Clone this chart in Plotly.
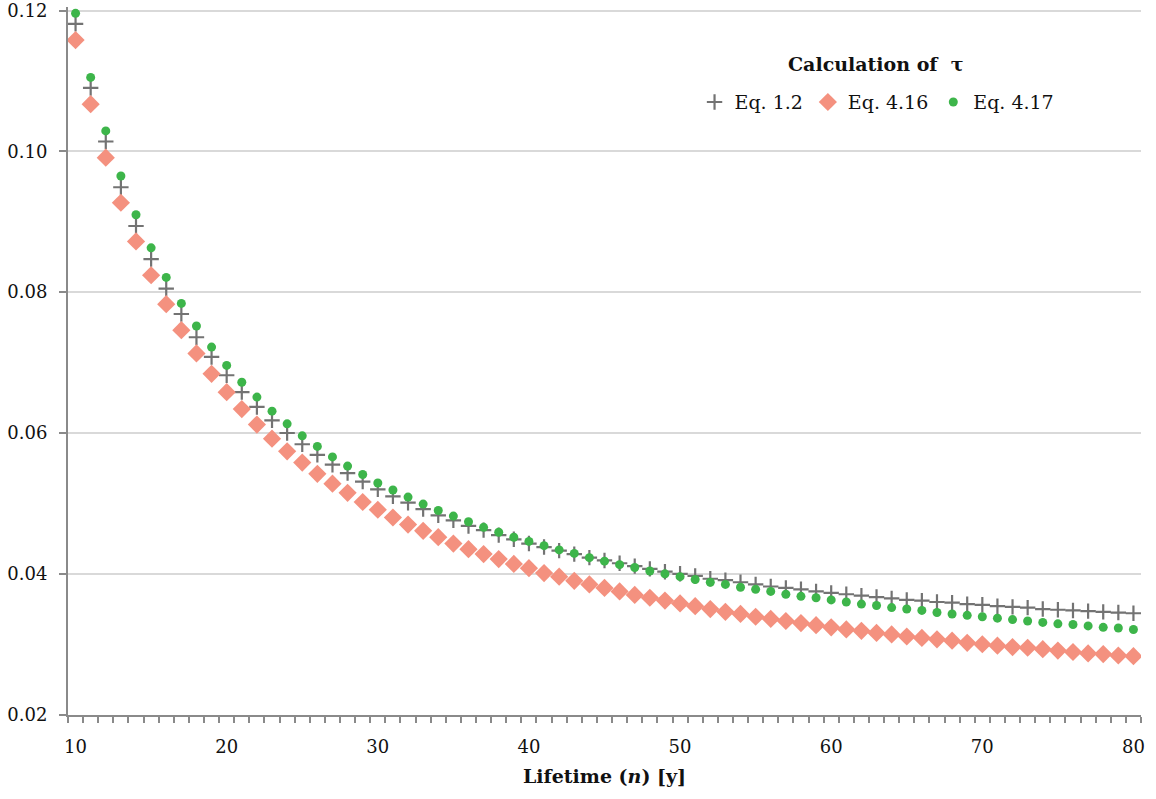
import plotly.graph_objects as go

lifetime = list(range(10, 81))

eq_1_2 = [0.1181, 0.1090, 0.1014, 0.0949, 0.0894, 0.0847, 0.0805, 0.0769, 0.0736, 0.0708,
          0.0682, 0.0658, 0.0637, 0.0618, 0.0600, 0.0584, 0.0569, 0.0555, 0.0543, 0.0531,
          0.0520, 0.0510, 0.0501, 0.0492, 0.0483, 0.0476, 0.0468, 0.0462, 0.0455, 0.0449,
          0.0443, 0.0438, 0.0433, 0.0428, 0.0423, 0.0419, 0.0415, 0.0411, 0.0407, 0.0403,
          0.0400, 0.0397, 0.0393, 0.0391, 0.0388, 0.0385, 0.0382, 0.0380, 0.0378, 0.0375,
          0.0373, 0.0371, 0.0369, 0.0367, 0.0365, 0.0363, 0.0362, 0.0360, 0.0359, 0.0357,
          0.0356, 0.0354, 0.0353, 0.0352, 0.0350, 0.0349, 0.0348, 0.0347, 0.0346, 0.0345,
          0.0344]

eq_4_16 = [0.1158, 0.1067, 0.0991, 0.0927, 0.0872, 0.0824, 0.0783, 0.0746, 0.0713, 0.0684,
           0.0658, 0.0634, 0.0612, 0.0592, 0.0574, 0.0558, 0.0542, 0.0528, 0.0515, 0.0502,
           0.0491, 0.0480, 0.0470, 0.0461, 0.0452, 0.0443, 0.0435, 0.0428, 0.0421, 0.0414,
           0.0408, 0.0401, 0.0396, 0.0390, 0.0385, 0.0380, 0.0375, 0.0370, 0.0366, 0.0362,
           0.0358, 0.0354, 0.0350, 0.0346, 0.0343, 0.0339, 0.0336, 0.0333, 0.0330, 0.0327,
           0.0324, 0.0321, 0.0319, 0.0316, 0.0314, 0.0311, 0.0309, 0.0307, 0.0305, 0.0302,
           0.0300, 0.0298, 0.0296, 0.0295, 0.0293, 0.0291, 0.0289, 0.0287, 0.0286, 0.0284,
           0.0283]

eq_4_17 = [0.1196, 0.1105, 0.1029, 0.0965, 0.0910, 0.0863, 0.0821, 0.0784, 0.0752, 0.0722,
           0.0696, 0.0672, 0.0651, 0.0631, 0.0613, 0.0596, 0.0581, 0.0566, 0.0553, 0.0541,
           0.0529, 0.0519, 0.0509, 0.0499, 0.0490, 0.0482, 0.0474, 0.0466, 0.0459, 0.0452,
           0.0446, 0.0440, 0.0434, 0.0429, 0.0423, 0.0418, 0.0413, 0.0409, 0.0404, 0.0400,
           0.0396, 0.0392, 0.0388, 0.0385, 0.0381, 0.0378, 0.0375, 0.0371, 0.0368, 0.0366,
           0.0363, 0.0360, 0.0357, 0.0355, 0.0352, 0.0350, 0.0348, 0.0345, 0.0343, 0.0341,
           0.0339, 0.0337, 0.0335, 0.0333, 0.0331, 0.0329, 0.0328, 0.0326, 0.0324, 0.0323,
           0.0321]

x_ticks = [10, 20, 30, 40, 50, 60, 70, 80]
y_ticks = [0.02, 0.04, 0.06, 0.08, 0.10, 0.12]
y_ticklabels = ["0.02", "0.04", "0.06", "0.08", "0.10", "0.12"]

FONT = "DejaVu Serif"
AXIS = "#8a8a8a"

fig = go.Figure()
fig.add_trace(go.Scatter(x=lifetime, y=eq_1_2, mode="markers", name="Eq. 1.2",
                         marker=dict(symbol="cross-thin", size=11, color="#737373",
                                     line=dict(width=2.2, color="#737373"))))
fig.add_trace(go.Scatter(x=lifetime, y=eq_4_16, mode="markers", name="Eq. 4.16",
                         marker=dict(symbol="diamond", size=14, color="#f4917f")))
fig.add_trace(go.Scatter(x=lifetime, y=eq_4_17, mode="markers", name="Eq. 4.17",
                         marker=dict(symbol="circle", size=9, color="#3db54a")))

fig.add_annotation(text="<b>Calculation of  τ</b>", xref="paper", yref="paper",
                   x=0.753, y=0.919, xanchor="center", yanchor="middle",
                   showarrow=False, font=dict(family=FONT, size=19, color="#111111"))

fig.update_layout(
    width=1156, height=799,
    margin=dict(l=68, r=15, t=7, b=84),
    paper_bgcolor="white", plot_bgcolor="white",
    font=dict(family=FONT, size=18, color="#111111"),
    showlegend=True,
    legend=dict(
        orientation="h", x=0.754, xanchor="center", y=0.8656, yanchor="middle",
        font=dict(family=FONT, size=19),
        bgcolor="rgba(0,0,0,0)", itemwidth=30, tracegroupgap=0,
    ),
    xaxis=dict(
        range=[9.5, 80.5], tickvals=x_ticks, ticktext=[str(v) for v in x_ticks],
        ticks="", showgrid=False, zeroline=False, automargin=False,
        showline=True, linecolor=AXIS, linewidth=2,
        minor=dict(tick0=9.5, dtick=1, ticks="outside", ticklen=6, tickcolor=AXIS,
                   tickwidth=1.5, showgrid=False),
        ticklabelstandoff=14,
        title=dict(text="<b>Lifetime (<i>n</i>) [y]</b>", font=dict(family=FONT, size=19),
                   standoff=14),
        tickfont=dict(family=FONT, size=18),
    ),
    yaxis=dict(
        range=[0.01995, 0.1205], tickvals=y_ticks, ticktext=y_ticklabels,
        ticks="outside", ticklen=7, tickcolor=AXIS, tickwidth=1.5, automargin=False,
        showgrid=True, gridcolor="#d9d9d9", gridwidth=1.5, zeroline=False,
        showline=True, linecolor=AXIS, linewidth=2,
        ticklabelstandoff=8, ticklabeloverflow="allow",
        tickfont=dict(family=FONT, size=18),
    ),
)

fig.write_html("out.html")
